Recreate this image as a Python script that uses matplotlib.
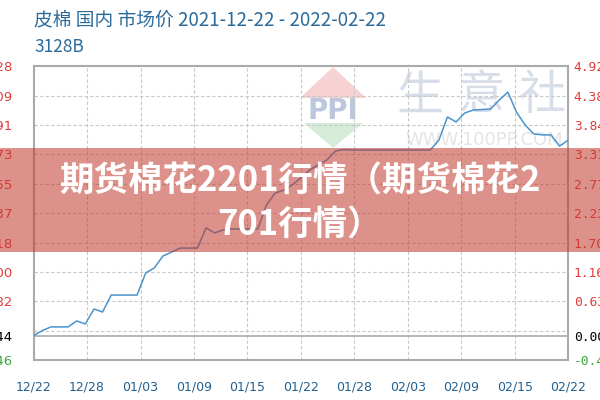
import matplotlib
matplotlib.use('Agg')
import matplotlib.pyplot as plt
from matplotlib.patches import Polygon, Rectangle

# daily price, 2021-12-22 .. 2022-02-22
days = list(range(63))
prices = [22044, 22064, 22079, 22079, 22079, 22103, 22091, 22151, 22139, 22207,
          22207, 22207, 22207, 22296, 22316, 22364, 22380, 22396, 22396, 22396,
          22477, 22457, 22469, 22473, 22473, 22473, 22473, 22569, 22617, 22629,
          22650, 22678, 22710, 22730, 22750, 22786, 22792, 22790, 22790, 22790,
          22790, 22790, 22790, 22790, 22790, 22790, 22790, 22830, 22923, 22903,
          22939, 22951, 22953, 22955, 22991, 23023, 22943, 22891, 22855, 22851,
          22851, 22806, 22830]

base = 22044
x_labels = ['12/22', '12/28', '01/03', '01/09', '01/15', '01/22',
            '01/28', '02/03', '02/09', '02/15', '02/22']
y_ticks = [21946, 22044, 22182, 22300, 22418, 22537, 22655, 22773, 22891, 23009, 23128]
left_labels = ['21946', '22044', '22182', '22300', '22418', '22537',
               '22655', '22773', '22891', '23009', '23128']
right_labels = ['-0.45', '0.00', '0.63', '1.16', '1.70', '2.23',
                '2.77', '3.31', '3.84', '4.38', '4.92']
grid_levels = [22064, 22182, 22300, 22418, 22537, 22655, 22773, 22891, 23009]

title = '皮棉 国内 市场价 2021-12-22 - 2022-02-22'
subtitle = '3128B'
banner_1 = '期货棉花2201行情（期货棉花2'
banner_2 = '701行情）'

cjk = ['Noto Sans CJK SC', 'DejaVu Sans']
red = '#e23a3a'
green = '#3aa83a'
label_colors = [green, 'black'] + [red] * 9


def px(x, y):
    # pixel position (from top-left) -> figure fraction
    return (x / 600, 1 - y / 400)


fig = plt.figure(figsize=(6, 4), dpi=100)
ax = fig.add_axes([0.056, 0.1, 0.891, 0.735])
ax.set_xlim(0, 62)
ax.set_ylim(21946, 23128)

xt = [62 * i / 10 for i in range(11)]
for x in xt[1:-1]:
    ax.axvline(x, color='#c8c8c8', lw=0.8, ls=(0, (3, 2)), zorder=1)
for g in grid_levels:
    ax.axhline(g, color='#c8c8c8', lw=0.8, ls=(0, (3, 2)), zorder=1)
ax.axhline(base, color='#aaaaaa', lw=1.2, zorder=1)

# watermark
tf = fig.transFigure
ax.add_patch(Polygon([px(333, 67), px(366, 98), px(300, 98)], closed=True,
                     transform=tf, color='#f6d2d2', lw=0, zorder=0.5))
ax.add_patch(Polygon([px(304, 123), px(363, 123), px(333, 148)], closed=True,
                     transform=tf, color='#d6ecd9', lw=0, zorder=0.5))
ax.text(*px(333, 111), 'PPI', transform=tf, ha='center', va='center', fontsize=20,
        fontweight='bold', family='DejaVu Sans', color='#bcc7dd', zorder=0.6)
for cx, ch in zip([420, 481, 542], '生意社'):
    ax.text(*px(cx, 96), ch, transform=tf, ha='center', va='center', fontsize=34,
            family=cjk, color='#d7deea', zorder=0.6)
ax.text(*px(484, 140), 'WWW.100PP.COM', transform=tf, ha='center', va='center',
        fontsize=13, color='#e4e4e4', zorder=0.6)

ax.plot(days, prices, color='#4b94cc', lw=1.1, zorder=3)

for s in ax.spines.values():
    s.set_color('#aaaaaa')
    s.set_linewidth(1.5)

ax.set_xticks(xt)
ax.set_xticklabels(x_labels, fontsize=9, color='#22608f')
ax.tick_params(axis='x', length=0, pad=15)

ax.set_yticks(y_ticks)
ax.set_yticklabels(left_labels, fontsize=9.5)
ax.tick_params(axis='y', length=0, pad=15.5)
for lab, c in zip(ax.get_yticklabels(), label_colors):
    lab.set_color(c)

ax2 = ax.twinx()
ax2.set_ylim(ax.get_ylim())
ax2.set_yticks(y_ticks)
ax2.set_yticklabels(right_labels, fontsize=9.3, family='DejaVu Sans Mono')
ax2.tick_params(axis='y', length=0, pad=4)
for lab, c in zip(ax2.get_yticklabels(), label_colors):
    lab.set_color(c)
for s in ax2.spines.values():
    s.set_visible(False)

fig.text(*px(34, 20), title, ha='left', va='center', fontsize=13.5,
         family=cjk, color='#2b6b9c')
fig.text(*px(34, 47), subtitle, ha='left', va='center', fontsize=12.5,
         family=cjk, color='#2b6b9c')

# red banner over the chart
fig.patches.append(Rectangle(px(0, 252), 1, 104 / 400, transform=tf,
                             color='#c0392b', alpha=0.55, lw=0, zorder=5))
fig.text(*px(300, 181), banner_1, ha='center', va='center', fontsize=24.8,
         fontweight='bold', family=cjk, color='white', zorder=6)
fig.text(*px(300, 225), banner_2, ha='center', va='center', fontsize=24.8,
         fontweight='bold', family=cjk, color='white', zorder=6)

fig.savefig('out.png', dpi=100)
